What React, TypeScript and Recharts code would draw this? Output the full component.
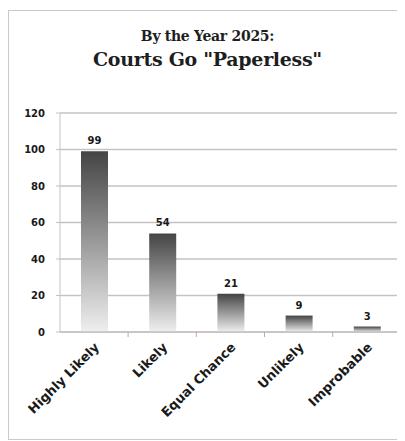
import { BarChart, Bar, XAxis, YAxis, CartesianGrid, LabelList } from "recharts"

const categories = ["Highly Likely", "Likely", "Equal Chance", "Unlikely", "Improbable"]
const responses = [99, 54, 21, 9, 3]
const yTicks = [0, 20, 40, 60, 80, 100, 120]

const chartData = categories.map((name, i) => ({ name, value: responses[i] }))

const BAND = 68

function CategoryTick(props: any) {
  const { x, y, payload } = props
  return (
    <g>
      <line x1={x + BAND / 2} y1={y - 8} x2={x + BAND / 2} y2={y - 3} stroke="#b9aeae" />
      <text
        x={x + 6}
        y={y + 8}
        textAnchor="end"
        transform={`rotate(-45, ${x + 6}, ${y + 8})`}
        fontFamily="DejaVu Sans"
        fontWeight="bold"
        fontSize={13}
        fill="#1a1a1a"
      >
        {payload.value}
      </text>
    </g>
  )
}

export default function App() {
  return (
    <div
      style={{
        position: "relative",
        width: 397,
        height: 430,
        boxSizing: "border-box",
        borderLeft: "1px solid #cfc8c8",
        borderTop: "1px solid #cfc8c8",
        borderBottom: "1px solid #cfc8c8",
        marginTop: 2,
        background: "#fff",
      }}
    >
      <div
        style={{
          position: "absolute",
          top: 15,
          left: 0,
          width: 397,
          textAlign: "center",
          fontFamily: "DejaVu Serif",
          fontWeight: "bold",
          color: "#1e1e1e",
        }}
      >
        <div style={{ fontSize: 14, lineHeight: "20px", letterSpacing: -0.3 }}>By the Year 2025:</div>
        <div style={{ fontSize: 19, lineHeight: "26px", letterSpacing: -0.3 }}>Courts Go "Paperless"</div>
      </div>
      <BarChart
        width={396}
        height={428}
        data={chartData}
        margin={{ top: 102, right: 4, bottom: 8, left: 20 }}
        style={{ position: "absolute", top: 0, left: 0 }}
      >
        <defs>
          <linearGradient id="barShade" x1="0" y1="0" x2="0" y2="1">
            <stop offset="0%" stopColor="#444444" />
            <stop offset="55%" stopColor="#a2a2a2" />
            <stop offset="100%" stopColor="#efefef" />
          </linearGradient>
        </defs>
        <CartesianGrid vertical={false} stroke="#c9c1c1" strokeWidth={1.5} />
        <YAxis
          width={31}
          domain={[0, 120]}
          ticks={yTicks}
          interval={0}
          axisLine={{ stroke: "#c9c1c1" }}
          tickLine={{ stroke: "#c9c1c1" }}
          tickSize={4}
          dx={-9}
          tick={{ fontFamily: "DejaVu Sans", fontWeight: "bold", fontSize: 10, fill: "#1a1a1a" }}
        />
        <XAxis
          dataKey="name"
          height={99}
          interval={0}
          axisLine={{ stroke: "#c9c1c1", strokeWidth: 1.5 }}
          tickLine={false}
          tick={<CategoryTick />}
        />
        <Bar dataKey="value" fill="url(#barShade)" barSize={27} isAnimationActive={false}>
          <LabelList
            dataKey="value"
            position="top"
            offset={7}
            style={{ fontFamily: "DejaVu Sans", fontWeight: "bold", fontSize: 10, fill: "#1a1a1a" }}
          />
        </Bar>
      </BarChart>
    </div>
  )
}
